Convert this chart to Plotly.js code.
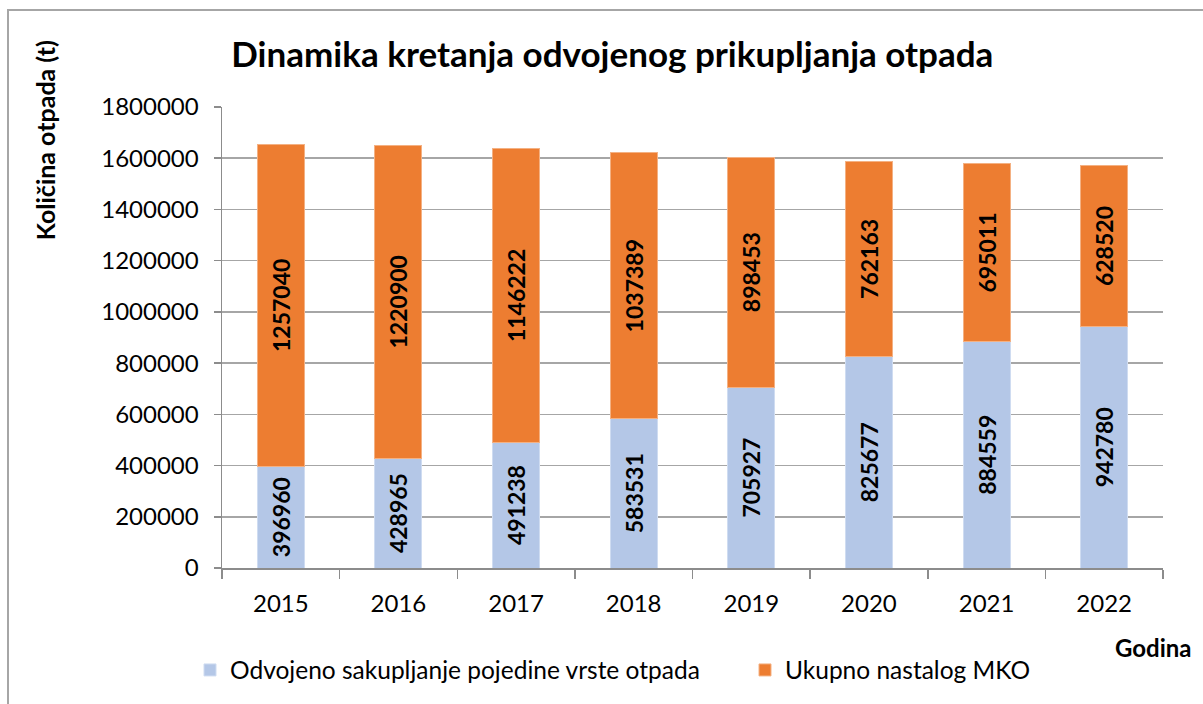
<!DOCTYPE html>
<html>
<head>
<meta charset="utf-8">
<script src="https://cdn.plot.ly/plotly-3.0.1.min.js"></script>
<style>
  html, body { margin: 0; padding: 0; background: #fff; }
  #chart { width: 1203px; height: 704px; }
</style>
</head>
<body>
<div id="chart"></div>
<script>
const years = ['2015', '2016', '2017', '2018', '2019', '2020', '2021', '2022'];
const odvojeno = [396960, 428965, 491238, 583531, 705927, 825677, 884559, 942780];
const ukupnoMKO = [1257040, 1220900, 1146222, 1037389, 898453, 762163, 695011, 628520];
const seriesNames = ['Odvojeno sakupljanje pojedine vrste otpada', 'Ukupno nastalog MKO'];
const titleText = 'Dinamika kretanja odvojenog prikupljanja otpada';
const yTitle = 'Količina otpada (t)';
const xTitle = 'Godina';

const FONT = 'Lato, "Open Sans", sans-serif';
const labelFont = { family: FONT, size: 23, color: '#000', weight: 'bold' };

const traces = [
  {
    type: 'bar', x: years, y: odvojeno, name: seriesNames[0],
    marker: { color: '#b4c7e7', line: { color: '#cfdcf1', width: 1 } },
    text: odvojeno.map(String), textposition: 'inside', insidetextanchor: 'middle',
    textangle: -90, constraintext: 'none', textfont: labelFont,
    legendwidth: 510,
    hoverinfo: 'x+y+name'
  },
  {
    type: 'bar', x: years, y: ukupnoMKO, name: seriesNames[1],
    marker: { color: '#ed7d31', line: { color: '#f4b183', width: 1 } },
    text: ukupnoMKO.map(String), textposition: 'inside', insidetextanchor: 'middle',
    textangle: -90, constraintext: 'none', textfont: labelFont,
    hoverinfo: 'x+y+name'
  }
];

const layout = {
  width: 1203, height: 704,
  margin: { l: 222, r: 40, t: 107, b: 136 },
  paper_bgcolor: '#fff', plot_bgcolor: '#fff',
  barmode: 'stack', bargap: 0.6,
  font: { family: FONT, size: 24, color: '#000' },
  title: {
    text: titleText, font: { family: FONT, size: 35, weight: 'bold', color: '#000' },
    xref: 'container', x: 0.509, xanchor: 'center',
    yref: 'container', y: 1 - 55 / 704, yanchor: 'middle'
  },
  xaxis: {
    type: 'category', tickson: 'boundaries', ticks: 'outside', ticklen: 9,
    tickcolor: '#8c8c8c', tickwidth: 1.5,
    showline: true, linecolor: '#8c8c8c', linewidth: 1.5,
    showgrid: false, tickfont: { family: FONT, size: 24, color: '#000' },
    ticklabelstandoff: 14
  },
  yaxis: {
    range: [0, 1800000], dtick: 200000, tickformat: 'd',
    ticks: 'outside', ticklen: 7, tickcolor: '#8c8c8c', tickwidth: 1.5,
    showline: true, linecolor: '#8c8c8c', linewidth: 1.5,
    showgrid: true, gridcolor: '#a6a6a6', gridwidth: 1.5,
    zeroline: false, tickfont: { family: FONT, size: 24, color: '#000' },
    ticklabelstandoff: 10
  },
  legend: {
    orientation: 'h', xref: 'container', x: 190 / 1203, xanchor: 'left',
    yref: 'container', y: 1 - 670 / 704, yanchor: 'middle',
    font: { family: FONT, size: 24.5, color: '#000' },
    traceorder: 'normal', itemwidth: 30
  },
  annotations: [
    {
      text: yTitle, textangle: -90, showarrow: false,
      xref: 'paper', yref: 'paper', x: -0.188, y: 0.928,
      xanchor: 'center', yanchor: 'middle',
      font: { family: FONT, size: 25, weight: 'bold', color: '#000' }
    },
    {
      text: xTitle, showarrow: false,
      xref: 'paper', yref: 'paper', x: 0.990, y: -0.1735,
      xanchor: 'center', yanchor: 'middle',
      font: { family: FONT, size: 24, weight: 'bold', color: '#000' }
    }
  ],
  shapes: [
    {
      type: 'rect', xref: 'paper', yref: 'paper',
      x0: (8 - 222) / 941, x1: (1260 - 222) / 941,
      y0: (568 - 760) / 461, y1: (568 - 10) / 461,
      line: { color: '#a6a6a6', width: 2 }, layer: 'below'
    }
  ],
  showlegend: true
};

Plotly.newPlot('chart', traces, layout, { displayModeBar: false, staticPlot: true });
</script>
</body>
</html>
